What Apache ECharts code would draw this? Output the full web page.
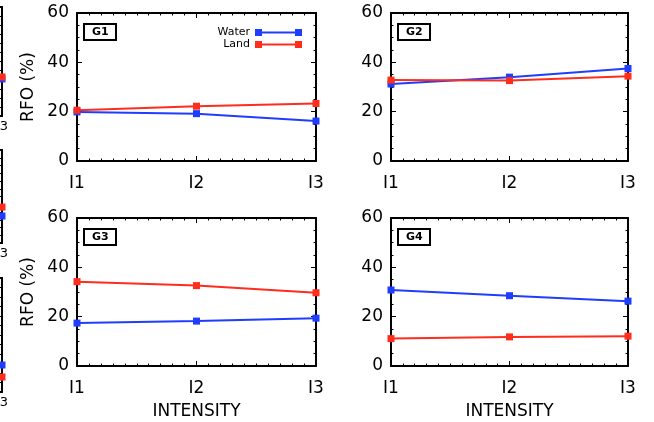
<!DOCTYPE html>
<html>
<head>
<meta charset="utf-8">
<title>RFO vs intensity</title>
<script src="https://cdn.jsdelivr.net/npm/echarts@6.0.0/dist/echarts.min.js"></script>
<style>
  html, body { margin: 0; padding: 0; background: #fff; }
  #chart { width: 654px; height: 422px; }
</style>
</head>
<body>
<div id="chart"></div>
<script>
// x categories and y ticks
const intensities = ['I1', 'I2', 'I3']
const yTicks = [0, 20, 40, 60]

// RFO (%) for each group, one value per intensity
const groups = ['G1', 'G2', 'G3', 'G4']
const waterRfo = [
  [19.9, 19.2, 16.2],
  [31.2, 34.0, 37.5],
  [17.4, 18.2, 19.4],
  [30.8, 28.5, 26.3]
]
const landRfo = [
  [20.6, 22.2, 23.3],
  [32.8, 32.6, 34.4],
  [34.2, 32.6, 29.7],
  [11.1, 11.8, 12.1]
]

// neighbouring figure cut off at the left edge (only I3 is visible)
const edgeWater = [20.4, 17.4, 14.2]
const edgeLand = [21.5, 23.2, 7.9]

const FONT = 'DejaVu Sans'
const BLUE = '#1f3dff'
const RED = '#ff2d1c'

// panel boxes
const panels = [
  { left: 77, top: 13, width: 239, height: 148, yName: true, xName: false },
  { left: 391, top: 13, width: 237, height: 148, yName: false, xName: false },
  { left: 77, top: 218, width: 239, height: 148, yName: true, xName: true },
  { left: 391, top: 218, width: 237, height: 148, yName: false, xName: true }
]
const edgePanels = [
  { left: -237, top: 7, width: 239, height: 109 },
  { left: -237, top: 150, width: 239, height: 93 },
  { left: -237, top: 278, width: 239, height: 114 }
]

const grid = []
const xAxis = []
const yAxis = []
const series = []
const title = []

const black = { color: '#000', width: 1 }

function addPanel(box, opt) {
  const gi = grid.length
  grid.push({
    left: box.left, top: box.top, width: box.width, height: box.height,
    outerBoundsMode: 'none'
  })

  const tick = { show: true, inside: true, length: opt.tickLen, lineStyle: black }
  const axisLine = { show: true, onZero: false, lineStyle: { color: '#000', width: 2 } }

  ;['bottom', 'top'].forEach(pos => {
    xAxis.push({
      type: 'value',
      gridIndex: gi,
      position: pos,
      min: 0,
      max: intensities.length - 1,
      interval: 1,
      axisLine,
      axisTick: tick,
      minorTick: { show: true, splitNumber: 10, length: opt.tickLen / 2, lineStyle: black },
      splitLine: { show: false },
      axisLabel: {
        show: pos === 'bottom',
        showMinLabel: true,
        showMaxLabel: true,
        margin: opt.xMargin,
        color: '#000',
        fontFamily: FONT,
        fontSize: opt.fontSize,
        formatter: v => intensities[v] || ''
      },
      name: pos === 'bottom' && opt.xName ? 'INTENSITY' : '',
      nameLocation: 'middle',
      nameGap: 37,
      nameTextStyle: { color: '#000', fontFamily: FONT, fontSize: 17 }
    })
  })

  ;['left', 'right'].forEach(pos => {
    yAxis.push({
      type: 'value',
      gridIndex: gi,
      position: pos,
      min: yTicks[0],
      max: yTicks[yTicks.length - 1],
      interval: yTicks[1] - yTicks[0],
      axisLine,
      axisTick: tick,
      minorTick: { show: true, splitNumber: 4, length: opt.tickLen / 2, lineStyle: black },
      splitLine: { show: false },
      axisLabel: {
        show: pos === 'left' && opt.yLabels,
        margin: 8,
        color: '#000',
        fontFamily: FONT,
        fontSize: 17
      },
      name: pos === 'left' && opt.yName ? 'RFO (%)' : '',
      nameLocation: 'middle',
      nameRotate: 90,
      nameGap: 40,
      nameTextStyle: { color: '#000', fontFamily: FONT, fontSize: 17 }
    })
  })
  return gi
}

function addLine(gi, name, color, values) {
  series.push({
    type: 'line',
    name,
    xAxisIndex: 2 * gi,
    yAxisIndex: 2 * gi,
    data: values.map((v, i) => (v == null ? null : [i, v])),
    symbol: 'rect',
    symbolSize: 7,
    clip: false,
    itemStyle: { color },
    lineStyle: { color, width: 2 }
  })
}

panels.forEach((box, k) => {
  const gi = addPanel(box, {
    tickLen: 5, xMargin: 14, fontSize: 17,
    yLabels: true, yName: box.yName, xName: box.xName
  })
  addLine(gi, 'Water', BLUE, waterRfo[k])
  addLine(gi, 'Land', RED, landRfo[k])
  title.push({
    text: groups[k],
    left: box.left + 7,
    top: box.top + 11,
    borderColor: '#000',
    borderWidth: 2,
    padding: [2, 8],
    textStyle: { color: '#000', fontFamily: FONT, fontSize: 11, fontWeight: 'bold', lineHeight: 12 }
  })
})

edgePanels.forEach((box, k) => {
  const gi = addPanel(box, {
    tickLen: 4, xMargin: 4, fontSize: 13,
    yLabels: false, yName: false, xName: false
  })
  addLine(gi, 'Water', BLUE, [null, null, edgeWater[k]])
  addLine(gi, 'Land', RED, [null, null, edgeLand[k]])
})

const chart = echarts.init(document.getElementById('chart'))
chart.setOption({
  animation: false,
  backgroundColor: '#fff',
  title,
  legend: {
    data: ['Water', 'Land'],
    orient: 'vertical',
    align: 'right',
    right: 352,
    top: 27,
    padding: 0,
    itemGap: 1,
    itemWidth: 47,
    itemHeight: 7,
    icon: 'path://M0,0h7v7h-7z M40,0h7v7h-7z M7,2.5h33v2h-33z',
    selectedMode: false,
    textStyle: { color: '#000', fontFamily: FONT, fontSize: 11, lineHeight: 10 }
  },
  grid,
  xAxis,
  yAxis,
  series
})
</script>
</body>
</html>
